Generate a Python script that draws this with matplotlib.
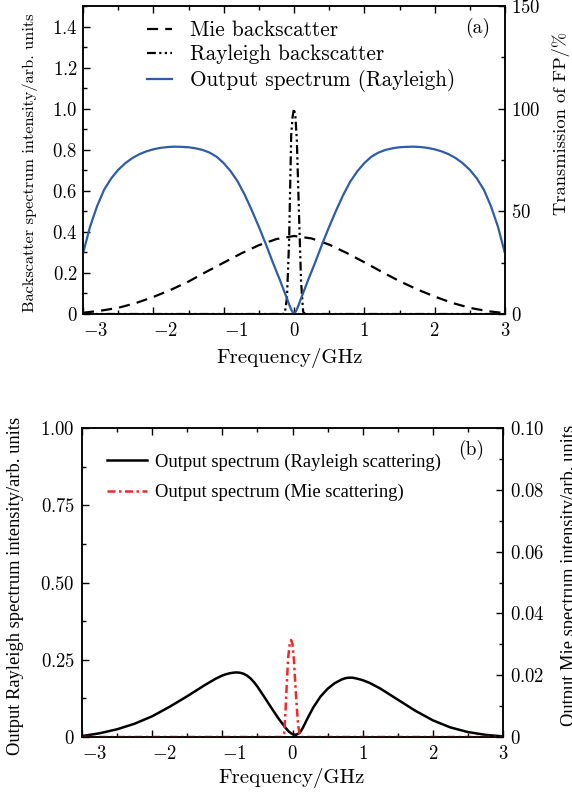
import matplotlib
matplotlib.use("Agg")
import matplotlib.pyplot as plt
from matplotlib.ticker import MultipleLocator

plt.rcParams['font.family'] = 'cmr10'
plt.rcParams['mathtext.fontset'] = 'cm'

# ---- (a) backscatter spectra ----
mie_x = [-3.0, -2.75, -2.5, -2.25, -2.0, -1.75, -1.5, -1.25, -1.0, -0.75, -0.5, -0.25, 0.0,
         0.25, 0.5, 0.75, 1.0, 1.25, 1.5, 1.75, 2.0, 2.25, 2.5, 2.75, 3.0]
mie_y = [0.006, 0.016, 0.03, 0.053, 0.083, 0.118, 0.158, 0.205, 0.25, 0.295, 0.335, 0.365, 0.38,
         0.368, 0.338, 0.297, 0.252, 0.205, 0.16, 0.12, 0.085, 0.054, 0.03, 0.014, 0.004]

ray_x = [-3.0, -0.16, -0.13, -0.1, -0.07, -0.04, -0.02, 0.0, 0.02, 0.04, 0.07, 0.1, 0.13, 0.16, 3.0]
ray_y = [0.0, 0.0, 0.005, 0.08, 0.35, 0.87, 0.96, 1.0, 0.96, 0.85, 0.5, 0.16, 0.01, 0.0, 0.0]

# FP transmission in %
fp_x = [-3.0, -2.9, -2.8, -2.7, -2.6, -2.5, -2.4, -2.3, -2.2, -2.1, -2.0, -1.9, -1.8, -1.7,
        -1.6, -1.5, -1.4, -1.3, -1.2, -1.1, -1.0, -0.9, -0.8, -0.7, -0.6, -0.5, -0.4, -0.3,
        -0.2, -0.15, -0.1, -0.075, -0.05, -0.025, 0.0, 0.025, 0.05, 0.075, 0.1, 0.15, 0.2,
        0.3, 0.4, 0.5, 0.6, 0.7, 0.8, 0.9, 1.0, 1.1, 1.2, 1.3, 1.4, 1.5, 1.6, 1.7, 1.8, 1.9,
        2.0, 2.1, 2.2, 2.3, 2.4, 2.5, 2.6, 2.7, 2.8, 2.9, 3.0]
fp_t = [29.5, 42.5, 52.5, 60.5, 66.0, 70.2, 73.4, 75.9, 77.8, 79.2, 80.2, 80.9, 81.3, 81.5,
        81.4, 81.2, 80.7, 79.9, 78.6, 76.6, 73.5, 69.5, 64.5, 58.0, 50.5, 42.5, 34.0, 25.0,
        16.5, 12.0, 7.6, 5.2, 3.0, 1.2, 0.2, 1.2, 3.0, 5.2, 7.6, 12.0, 16.5,
        25.0, 34.0, 42.5, 50.5, 58.0, 64.5, 69.5, 73.5, 76.6, 78.6, 79.9, 80.7, 81.2, 81.4, 81.5, 81.3, 80.9,
        80.2, 79.2, 77.8, 75.9, 73.4, 70.2, 66.0, 60.5, 52.5, 42.5, 29.5]

# ---- (b) output spectra ----
outr_x = [-3.0, -2.75, -2.5, -2.25, -2.0, -1.75, -1.5, -1.25, -1.1, -1.0, -0.95, -0.9, -0.85, -0.8,
          -0.75, -0.7, -0.65, -0.6, -0.55, -0.5, -0.4, -0.3, -0.2, -0.1, -0.05, 0.0, 0.05, 0.1,
          0.125, 0.15, 0.175, 0.2, 0.25, 0.3, 0.4, 0.5, 0.6, 0.7, 0.75, 0.8, 0.85, 0.9, 1.0, 1.1,
          1.25, 1.5, 1.75, 2.0, 2.25, 2.5, 2.75, 3.0]
outr_y = [0.003, 0.012, 0.025, 0.043, 0.067, 0.098, 0.132, 0.168, 0.188, 0.199, 0.203, 0.206, 0.208, 0.209,
          0.208, 0.205, 0.199, 0.19, 0.178, 0.163, 0.129, 0.094, 0.06, 0.03, 0.017, 0.009, 0.007, 0.013,
          0.021, 0.031, 0.042, 0.054, 0.076, 0.097, 0.131, 0.156, 0.174, 0.186, 0.19, 0.192, 0.192, 0.19, 0.184, 0.175,
          0.157, 0.121, 0.085, 0.054, 0.031, 0.016, 0.007, 0.002]

outm_x = [-3.0, -0.14, -0.12, -0.1, -0.08, -0.06, -0.04, -0.02, 0.0, 0.02, 0.04, 0.06, 0.08, 0.1, 0.12, 3.0]
outm_y = [0.0, 0.0, 0.001, 0.008, 0.018, 0.026, 0.030, 0.0314, 0.030, 0.025, 0.017, 0.010, 0.004, 0.001, 0.0, 0.0]

xtick_vals = [-3, -2, -1, 0, 1, 2, 3]
xtick_txt = ['$-3$', '$-2$', '$-1$', '$0$', '$1$', '$2$', '$3$']

W, H = 572, 793
fig = plt.figure(figsize=(W / 100, H / 100), dpi=100)

tick_kw = dict(direction='in', width=1, labelsize=13.5)


def shift_neg_labels(ax):
    # negative labels start at the tick in the original
    for t in ax.get_xticklabels():
        if t.get_text().startswith('$-'):
            t.set_ha('left')


# ---------------- panel (a) ----------------
ax1 = fig.add_axes([83 / W, 1 - 314 / H, 422 / W, 308 / H])
l1, = ax1.plot(mie_x, mie_y, color='k', lw=1.6, dashes=(5, 3.2), label='Mie backscatter')
l2, = ax1.plot(ray_x, ray_y, color='k', lw=1.6, dashes=(4, 1.5, 1, 1.5, 1, 1.5), label='Rayleigh backscatter')
ax1.set_xlim(-3, 3)
ax1.set_ylim(0, 1.5)
ax1.xaxis.set_minor_locator(MultipleLocator(0.5))
ax1.yaxis.set_minor_locator(MultipleLocator(0.1))
ax1.set_xticks(xtick_vals)
ax1.set_xticklabels(xtick_txt)
ax1.set_yticks([0, 0.2, 0.4, 0.6, 0.8, 1.0, 1.2, 1.4])
ax1.set_yticklabels(['$0$', '$0.2$', '$0.4$', '$0.6$', '$0.8$', '$1.0$', '$1.2$', '$1.4$'])
ax1.tick_params(axis='x', which='both', top=True, pad=6, **tick_kw)
ax1.tick_params(axis='y', which='both', right=False, pad=4, **tick_kw)
ax1.tick_params(which='major', length=5)
ax1.tick_params(which='minor', length=3)
shift_neg_labels(ax1)

ax2 = ax1.twinx()
l3, = ax2.plot(fp_x, fp_t, color='#2d5da8', lw=1.6, label='Output spectrum (Rayleigh)')
ax2.set_ylim(0, 150)
ax2.set_yticks([0, 50, 100, 150])
ax2.set_yticklabels(['$0$', '$50$', '$100$', '$150$'])
ax2.yaxis.set_minor_locator(MultipleLocator(25))
ax2.tick_params(axis='y', which='both', pad=4, **tick_kw)
ax2.tick_params(which='major', length=5)
ax2.tick_params(which='minor', length=3)

for a in (ax1, ax2):
    for s in a.spines.values():
        s.set_linewidth(1.1)

ax2.legend(handles=[l1, l2, l3], loc='upper left', bbox_to_anchor=(0.152, 0.952),
           frameon=False, fontsize=15.3, handlelength=1.17, handletextpad=0.85,
           labelspacing=0.22, borderaxespad=0, borderpad=0)
ax1.text(0.965, 0.93, '(a)', transform=ax1.transAxes, ha='right', va='center', fontsize=14)

fig.text(290 / W, 1 - 358 / H, 'Frequency/GHz', ha='center', va='center', fontsize=15)
fig.text(30 / W, 1 - 163 / H, 'Backscatter spectrum intensity/arb. units', rotation=90,
         ha='center', va='center', fontsize=11.75)
fig.text(561 / W, 1 - 123 / H, 'Transmission of FP/%', rotation=90,
         ha='center', va='center', fontsize=13.3)

# ---------------- panel (b) ----------------
ax3 = fig.add_axes([82 / W, 1 - 737 / H, 421 / W, 309 / H])
l4, = ax3.plot(outr_x, outr_y, color='k', lw=1.8, label='Output spectrum (Rayleigh scattering)')
ax3.set_xlim(-3, 3)
ax3.set_ylim(0, 1.0)
ax3.set_xticks(xtick_vals)
ax3.set_xticklabels(xtick_txt)
ax3.xaxis.set_minor_locator(MultipleLocator(0.5))
ax3.set_yticks([0, 0.25, 0.5, 0.75, 1.0])
ax3.set_yticklabels(['$0$', '$0.25$', '$0.50$', '$0.75$', '$1.00$'])
ax3.yaxis.set_minor_locator(MultipleLocator(0.125))
ax3.tick_params(axis='x', which='both', top=True, pad=6, **tick_kw)
ax3.tick_params(axis='y', which='both', right=False, pad=5, **tick_kw)
ax3.tick_params(which='major', length=5)
ax3.tick_params(which='minor', length=3)
shift_neg_labels(ax3)

ax4 = ax3.twinx()
l5, = ax4.plot(outm_x, outm_y, color='#f02828', lw=1.8, dashes=(3.2, 1.4, 1, 1.4),
               label='Output spectrum (Mie scattering)')
ax4.set_ylim(0, 0.1)
ax4.set_yticks([0, 0.02, 0.04, 0.06, 0.08, 0.10])
ax4.set_yticklabels(['$0$', '$0.02$', '$0.04$', '$0.06$', '$0.08$', '$0.10$'])
ax4.yaxis.set_minor_locator(MultipleLocator(0.01))
ax4.tick_params(axis='y', which='both', pad=5, **tick_kw)
ax4.tick_params(which='major', length=5)
ax4.tick_params(which='minor', length=3)

for a in (ax3, ax4):
    for s in a.spines.values():
        s.set_linewidth(1.1)

ax4.legend(handles=[l4, l5], loc='upper left', bbox_to_anchor=(0.059, 0.917),
           frameon=False, prop={'family': 'Liberation Serif', 'size': 13.4},
           handlelength=2.15, handletextpad=0.43, labelspacing=0.7, borderaxespad=0, borderpad=0)
ax3.text(0.955, 0.93, '(b)', transform=ax3.transAxes, ha='right', va='center', fontsize=14)

fig.text(292 / W, 1 - 778 / H, 'Frequency/GHz', ha='center', va='center', fontsize=15)
fig.text(16 / W, 1 - 586 / H, 'Output Rayleigh spectrum intensity/arb. units', rotation=90,
         ha='center', va='center', family='Liberation Serif', fontsize=13.3)
fig.text(570 / W, 1 - 575 / H, 'Output Mie spectrum intensity/arb. units', rotation=90,
         ha='center', va='center', family='Liberation Serif', fontsize=13.3)

fig.savefig('out.png', dpi=100)
